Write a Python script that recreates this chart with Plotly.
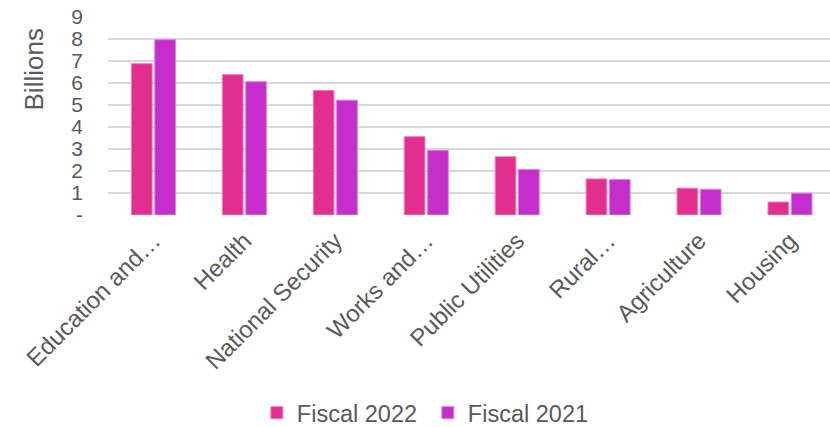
import plotly.graph_objects as go

categories = ["Education and…", "Health", "National Security", "Works and…",
              "Public Utilities", "Rural…", "Agriculture", "Housing"]
fiscal_2022 = [6.88, 6.38, 5.66, 3.56, 2.65, 1.64, 1.22, 0.59]
fiscal_2021 = [7.97, 6.06, 5.22, 2.94, 2.07, 1.61, 1.17, 0.99]
y_ticks = [0, 1, 2, 3, 4, 5, 6, 7, 8, 9]
y_tick_labels = ["-", "1", "2", "3", "4", "5", "6", "7", "8", "9"]

font_family = "Liberation Sans, Arial, sans-serif"
text_color = "#595959"

fig = go.Figure()
fig.add_trace(go.Bar(name="Fiscal 2022", x=categories, y=fiscal_2022,
                     marker=dict(color="#E22E8E", line=dict(color="#F07DBB", width=1))))
fig.add_trace(go.Bar(name="Fiscal 2021", x=categories, y=fiscal_2021,
                     marker=dict(color="#C62ECB", line=dict(color="#DC7FE0", width=1))))

fig.update_layout(
    width=830, height=427,
    margin=dict(l=108, r=0, t=17, b=212),
    paper_bgcolor="white", plot_bgcolor="white",
    barmode="group", bargap=0.487, bargroupgap=0.113,
    font=dict(family=font_family, color=text_color, size=21),
    showlegend=True,
    legend=dict(orientation="h", x=0.443, xanchor="center",
                yref="container", y=0.033, yanchor="middle",
                font=dict(size=23.5, color=text_color), itemwidth=30,
                entrywidth=126, traceorder="normal"),
    xaxis=dict(range=[-0.5, 7.44], tickangle=-45, showgrid=False, zeroline=False,
               showline=False, ticks="", ticklabelstandoff=6, automargin=False,
               tickfont=dict(size=24, color=text_color)),
    yaxis=dict(range=[0, 9], tickvals=y_ticks, ticktext=y_tick_labels,
               showgrid=True, gridcolor="#D9D9D9", gridwidth=1.5, zeroline=False,
               showline=False, ticks="", ticklabelstandoff=24, automargin=False,
               tickfont=dict(size=21, color=text_color)),
    annotations=[dict(text="Billions", textangle=-90, xref="paper", yref="paper",
                      x=0, y=0.735, xanchor="center", yanchor="middle", xshift=-74,
                      showarrow=False, font=dict(size=26, color=text_color))],
)

fig.write_html("out.html")
